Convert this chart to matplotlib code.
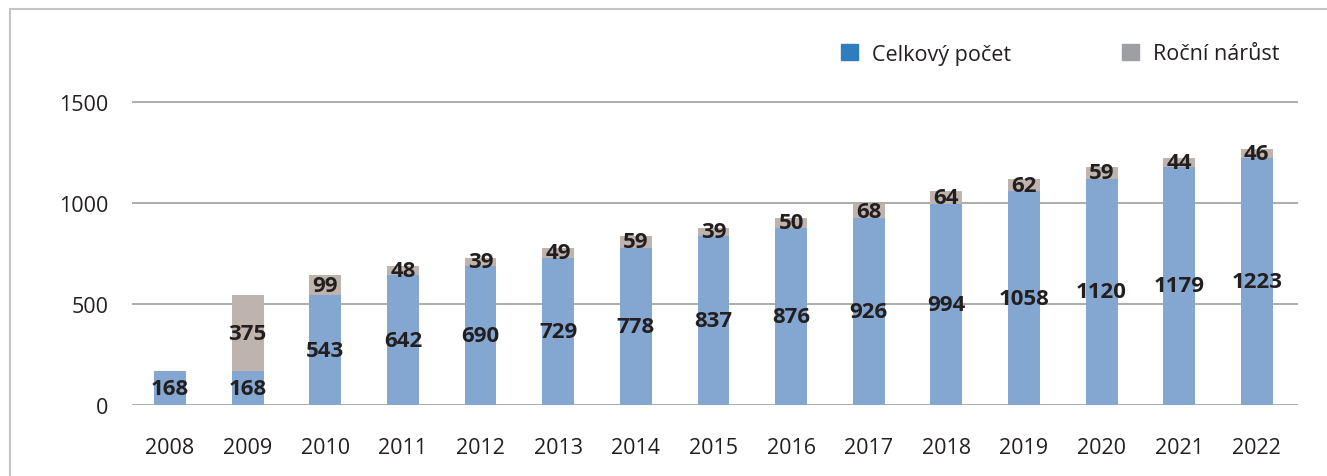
import numpy as np
import matplotlib.pyplot as plt
from matplotlib.lines import Line2D
from matplotlib.patches import Patch

# === Data ===
years = ['2008', '2009', '2010', '2011', '2012', '2013', '2014', '2015',
         '2016', '2017', '2018', '2019', '2020', '2021', '2022']
total = np.array([168, 168, 543, 642, 690, 729, 778, 837, 876, 926, 994, 1058, 1120, 1179, 1223])
growth = np.array([0, 375, 99, 48, 39, 49, 59, 39, 50, 68, 64, 62, 59, 44, 46])

plt.rcParams['font.family'] = ['Open Sans', 'DejaVu Sans']

W, H = 1327, 477
fig = plt.figure(figsize=(W / 100, H / 100), dpi=100)

# axes box in pixels: left 132, right 1298, y=0 at 406, 1500 at 103
px_per_unit = (406 - 103) / 1500
ytop = 1650
ax = fig.add_axes([132 / W, 1 - 406 / H, (1298 - 132) / W, ytop * px_per_unit / H])

x = np.arange(len(years))
blue = '#84a7d1'
gray = '#bfb3ae'

for v in [0, 500, 1000, 1500]:
    ax.axhline(v, color='#a6a6a6', lw=1.3, zorder=0)

ax.bar(x, total, width=0.41, color=blue, zorder=2)
ax.bar(x, growth, width=0.41, bottom=total, color=gray, zorder=2)

# value labels, centred in each segment
for i in range(len(years)):
    ax.text(x[i], total[i] / 2, str(total[i]), ha='center', va='center',
            fontsize=16, fontweight='bold', color='#231f20', zorder=3)
    if growth[i] > 0:
        ax.text(x[i], total[i] + growth[i] / 2, str(growth[i]), ha='center', va='center',
                fontsize=16, fontweight='bold', color='#231f20', zorder=3)

ax.set_xlim(-0.49, len(years) - 1 + 0.53)
ax.set_ylim(0, ytop)
ax.set_yticks([0, 500, 1000, 1500])
ax.set_xticks(x)
ax.set_xticklabels(years)
ax.tick_params(axis='both', length=0, labelsize=15.5, colors='#231f20')
ax.tick_params(axis='y', pad=17)
ax.tick_params(axis='x', pad=23)
for s in ax.spines.values():
    s.set_visible(False)

# outer frame (top and left lines)
fig.add_artist(Line2D([10 / W, 1], [1 - 10 / H, 1 - 10 / H], color='#c4c4c4', lw=1.5))
fig.add_artist(Line2D([10 / W, 10 / W], [0, 1 - 10 / H], color='#c4c4c4', lw=1.5))

handles = [Patch(color='#2e7ebf'), Patch(color='#9d9fa2')]
fig.legend(handles, ['Celkový počet', 'Roční nárůst'], loc='center left',
           bbox_to_anchor=(822 / W, 1 - 55 / H), ncol=2, frameon=False,
           fontsize=15.5, handlelength=0.75, handleheight=0.75, handletextpad=0.65,
           columnspacing=5.2, labelcolor='#231f20')

fig.savefig('out.png', dpi=100)
